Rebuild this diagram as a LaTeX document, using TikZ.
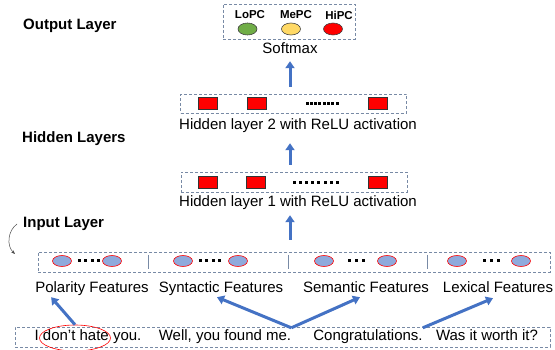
\documentclass[tikz,border=0pt]{standalone}
\usepackage{fontspec}
\setmainfont{Liberation Sans}
\usetikzlibrary{positioning,arrows.meta,shapes.geometric}
\definecolor{arrowblue}{RGB}{68,114,196}
\definecolor{boxgray}{RGB}{120,138,165}
\definecolor{featblue}{RGB}{143,170,220}
\definecolor{lowgreen}{RGB}{112,173,71}
\definecolor{midyellow}{RGB}{255,217,102}

\tikzset{
	layerbox/.style={draw=boxgray, dash pattern=on 3pt off 2pt, line width=0.8pt, inner sep=0pt},
	unitbox/.style={draw=black!80, fill=red, minimum width=19pt, minimum height=12pt, inner sep=0pt, line width=0.6pt},
	featnode/.style={ellipse, draw=red, fill=featblue, minimum width=19pt, minimum height=11pt, inner sep=0pt, line width=0.6pt},
	classnode/.style={ellipse, draw=black!75, minimum width=19pt, minimum height=12pt, inner sep=0pt, line width=0.6pt},
	flow/.style={arrowblue, line width=3pt, -{Triangle[length=7pt,width=9pt]}},
	layertitle/.style={font=\fontsize{15}{18}\selectfont\bfseries, anchor=west, inner sep=0pt},
	classlabel/.style={font=\fontsize{11.5}{13}\selectfont\bfseries, inner sep=0pt},
	plain/.style={font=\fontsize{15}{18}\selectfont, inner sep=2pt, text height=11pt, text depth=3pt},
	dotmark/.style={fill=black, minimum size=3pt, inner sep=0pt},
}

\begin{document}
\begin{tikzpicture}[x=1pt,y=-1pt]
	\useasboundingbox (0,0) rectangle (555,350);

	\node[layertitle] (outlab) at (23,26) {Output Layer};
	\node[layertitle] (hidlab) at (22,139) {Hidden Layers};
	\node[layertitle] (inlab) at (23,224) {Input Layer};
	\coordinate (curlend) at (15,254);
	\draw[black!70, line width=0.5pt, -{Stealth[length=4pt,width=3pt]}] ([xshift=-6pt]inlab.west) to[bend right=50] (curlend);

	\node[layerbox, minimum width=132pt, minimum height=35pt] (out) at (289,21.5) {};
	\node[classlabel] (lo) at (250,15) {LoPC};
	\node[classlabel] (me) at (296,15) {MePC};
	\node[classlabel] (hi) at (339,15) {HiPC};
	\node[classnode, fill=lowgreen] (loc) at (247.5,29) {};
	\node[classnode, fill=midyellow] (mec) at (291,29) {};
	\node[classnode, fill=red] (hic) at (333,29) {};
	\node[plain] (sm) at (290,50) {Softmax};

	\node[layerbox, minimum width=226pt, minimum height=19pt] (hid2) at (293.5,103.5) {};
	\foreach \x in {208,257,378}
		\node[unitbox] at (\x,103) {};
	\foreach \x in {307,311.3,...,338}
		\node[dotmark] at (\x,103.5) {};
	\node[plain] (hid2txt) at (298,126) {Hidden layer 2 with ReLU activation};

	\node[layerbox, minimum width=226pt, minimum height=20pt] (hid1) at (294,182) {};
	\foreach \x in {208,256,378}
		\node[unitbox] at (\x,182) {};
	\foreach \x in {294,300.2,...,338}
		\node[dotmark] at (\x,182.5) {};
	\node[plain] (hid1txt) at (298,203) {Hidden layer 1 with ReLU activation};

	\node[layerbox, minimum width=512pt, minimum height=20pt] (inp) at (294,262) {};
	\foreach \x in {148,288,427}
		\draw[boxgray, line width=0.6pt] (\x,255) -- (\x,269);
	\foreach \x in {62,112,183,238,324,387,457,521}
		\node[featnode] at (\x,261) {};
	\foreach \x in {79,85.5,...,99, 200,206.5,...,220}
		\node[dotmark] at (\x,261) {};
	\foreach \x in {349,356,...,364, 484,491,...,499}
		\node[dotmark] at (\x,261) {};
	\node[plain] (pol) at (92,288) {Polarity Features};
	\node[plain] (syn) at (221,288) {Syntactic Features};
	\node[plain] (sem) at (366,288) {Semantic Features};
	\node[plain] (lex) at (498,289) {Lexical Features};

	\node[layerbox, minimum width=535pt, minimum height=20pt] (sent) at (282.5,337) {};
	\node[plain] (s1) at (88,337) {I don't hate you.};
	\node[plain] (s2) at (225,337) {Well, you found me.};
	\node[plain] (s3) at (368,337) {Congratulations.};
	\node[plain] (s4) at (487,337) {Was it worth it?};
	\node[ellipse, draw=red, line width=0.6pt, minimum width=71pt, minimum height=26pt, inner sep=0pt] (hate) at (75,338) {};

	\draw[flow, shorten <=7pt, shorten >=2pt] (hid2.north -| sm.south) -- (sm.south);
	\draw[flow, shorten <=7pt, shorten >=8pt] (hid1.north -| sm.south) -- (hid2txt.south -| sm.south);
	\draw[flow, shorten <=12pt, shorten >=3pt] (inp.north -| sm.south) -- (hid1txt.south -| sm.south);

	\draw[flow] (hate.north) -- ([xshift=18pt]pol.south west);
	\draw[flow] ([xshift=-2pt]s2.north east) -- ([xshift=-4pt]syn.south);
	\draw[flow] ([xshift=-2pt]s2.north east) -- ([xshift=-6pt]sem.south);
	\draw[flow] ([xshift=-2pt]s3.north east) -- ([xshift=-5pt]lex.south);
\end{tikzpicture}
\end{document}
